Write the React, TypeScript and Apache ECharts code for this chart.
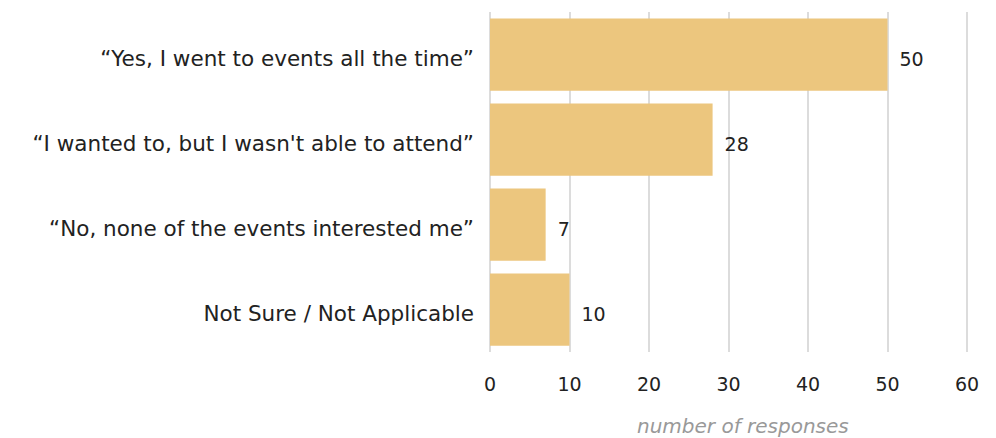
import React, { useEffect, useRef } from "react";
import * as echarts from "echarts";

const categories = [
  "“Yes, I went to events all the time”",
  "“I wanted to, but I wasn't able to attend”",
  "“No, none of the events interested me”",
  "Not Sure / Not Applicable",
];
const values = [50, 28, 7, 10];
const axisTitle = "number of responses";

const FONT = "'DejaVu Sans', sans-serif";

export default function App() {
  const ref = useRef<HTMLDivElement>(null);
  useEffect(() => {
    const chart = echarts.init(ref.current!, null, { renderer: "svg" });
    chart.setOption({
      animation: false,
      grid: { left: 482, right: 21, top: 4, bottom: 86, containLabel: false },
      xAxis: {
        type: "value",
        min: 0,
        max: 60,
        interval: 10,
        axisLine: { show: false },
        axisTick: { show: false },
        axisLabel: { color: "#222", fontSize: 19, fontFamily: FONT, margin: 22 },
        splitLine: { show: true, lineStyle: { color: "#dcdcdc", width: 2 } },
      },
      yAxis: {
        type: "category",
        inverse: true,
        data: categories,
        axisLine: { show: false },
        axisTick: { show: false },
        axisLabel: {
          margin: 16,
          formatter: (v: string) => "{a|" + v + "}",
          rich: {
            a: {
              color: "#222",
              fontSize: 21.5,
              fontFamily: FONT,
              padding: [8, 0, 0, 0],
            },
          },
        },
      },
      series: [
        {
          type: "bar",
          data: values,
          barCategoryGap: "15%",
          itemStyle: { color: "#ECC67E" },
          label: {
            show: true,
            position: "right",
            distance: 12,
            offset: [0, 4],
            color: "#222",
            fontSize: 19,
            fontFamily: FONT,
          },
        },
      ],
      graphic: [
        {
          type: "text",
          left: 629,
          top: 408,
          style: {
            text: axisTitle,
            fill: "#999",
            fontSize: 20,
            fontStyle: "italic",
            fontFamily: FONT,
          },
        },
      ],
    });
    return () => chart.dispose();
  }, []);
  return <div ref={ref} style={{ width: 980, height: 430 }} />;
}
